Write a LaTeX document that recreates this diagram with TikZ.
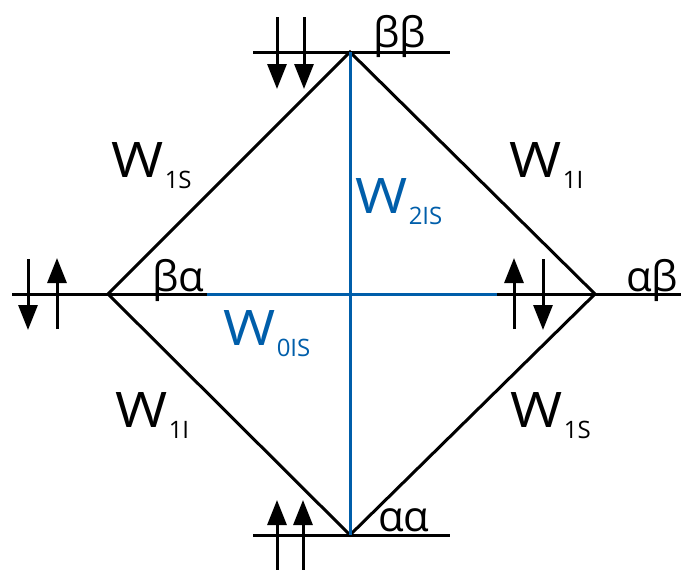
\documentclass[tikz,border=0pt]{standalone}
\usepackage{fontspec}
\setmainfont{Open Sans}
\usetikzlibrary{arrows.meta}
\definecolor{wblue}{RGB}{0,94,170}
\newcommand{\bigW}{\scalebox{1.15}[1]{W}}
\begin{document}
\begin{tikzpicture}[x=1pt,y=-1pt,
  edge/.style={line width=3pt,line cap=round},
  lvl/.style={line width=3pt},
  blueline/.style={line width=3pt,wblue},
  spin/.style={line width=3pt,-{Triangle[length=25pt,width=19pt]}},
  wlab/.style={anchor=base west,inner sep=0pt,font=\fontsize{49}{54}\selectfont},
  wsub/.style={anchor=base west,inner sep=0pt,yshift=-11pt,font=\fontsize{24}{28}\selectfont},
  glab/.style={anchor=base west,inner sep=0pt,font=\fontsize{42}{46}\selectfont}]
\useasboundingbox (0,0) rectangle (683,570);
% vertices
\coordinate (T) at (350,52);
\coordinate (L) at (108,294);
\coordinate (R) at (595,294);
\coordinate (B) at (350,535);
% level line ends
\coordinate (Ta) at (253,52);
\coordinate (Tb) at (450,52);
\coordinate (Ba) at (253,535);
\coordinate (Bb) at (450,535);
\coordinate (La) at (12,294);
\coordinate (Lb) at (207,294);
\coordinate (Ra) at (497,294);
\coordinate (Rb) at (681,294);
% level lines
\draw[lvl] (Ta) -- (Tb);
\draw[lvl] (Ba) -- (Bb);
\draw[lvl] (La) -- (Lb);
\draw[lvl] (Ra) -- (Rb);
\draw[blueline] (Lb) -- (Ra);
% diamond
\draw[edge] (T) -- (L) -- (B) -- (R) -- cycle;
\draw[blueline] (T) -- (B);
% spin arrows
\coordinate (t1a) at (277,17); \coordinate (t1b) at (277,89);
\coordinate (t2a) at (304,17); \coordinate (t2b) at (304,89);
\draw[spin] (t1a) -- (t1b);
\draw[spin] (t2a) -- (t2b);
\coordinate (b1a) at (277,570); \coordinate (b1b) at (277,500);
\coordinate (b2a) at (303,570); \coordinate (b2b) at (303,500);
\draw[spin] (b1a) -- (b1b);
\draw[spin] (b2a) -- (b2b);
\coordinate (l1a) at (28,259); \coordinate (l1b) at (28,330);
\coordinate (l2a) at (57,329); \coordinate (l2b) at (57,258);
\draw[spin] (l1a) -- (l1b);
\draw[spin] (l2a) -- (l2b);
\coordinate (r1a) at (514,329); \coordinate (r1b) at (514,258);
\coordinate (r2a) at (543,259); \coordinate (r2b) at (543,330);
\draw[spin] (r1a) -- (r1b);
\draw[spin] (r2a) -- (r2b);
% state labels
\node[glab] (bb) at (373,47) {ββ};
\node[glab] (ba) at (152,291) {βα};
\node[glab] (ab) at (626,291) {αβ};
\node[glab] (aa) at (378,531) {αα};
% rate labels
\node[wlab] (w1sa) at (111,177) {\bigW};
\node[wsub] (w1sas) at (w1sa.base east) {\hspace{1pt}1S};
\node[wlab] (w1ia) at (509,177) {\bigW};
\node[wsub] (w1ias) at (w1ia.base east) {\hspace{1pt}1I};
\node[wlab] (w1ib) at (115,427) {\bigW};
\node[wsub] (w1ibs) at (w1ib.base east) {\hspace{1pt}1I};
\node[wlab] (w1sb) at (510,427) {\bigW};
\node[wsub] (w1sbs) at (w1sb.base east) {\hspace{1pt}1S};
\node[wlab,text=wblue] (w2) at (355,213) {\bigW};
\node[wsub,text=wblue] (w2s) at (w2.base east) {\hspace{1pt}2IS};
\node[wlab,text=wblue] (w0) at (223,345) {\bigW};
\node[wsub,text=wblue] (w0s) at (w0.base east) {\hspace{1pt}0IS};
\end{tikzpicture}
\end{document}
